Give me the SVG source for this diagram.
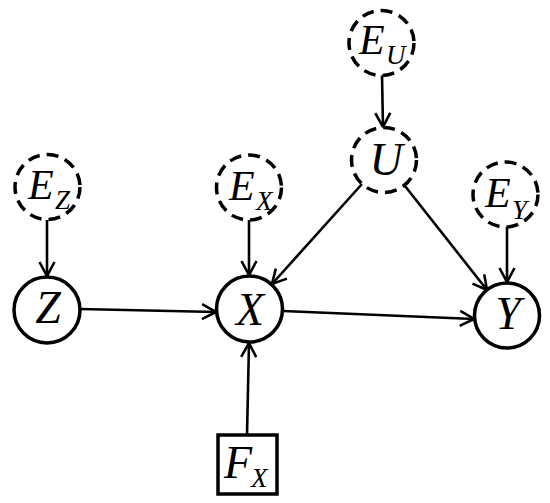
<svg xmlns="http://www.w3.org/2000/svg" width="550" height="503" viewBox="0 0 550 503">
<style>
.n{fill:#fff;stroke:#000;stroke-width:3.5}
.d{fill:#fff;stroke:#000;stroke-width:3.5;stroke-dasharray:12 7}
.e{fill:none;stroke:#000;stroke-width:2.6;marker-end:url(#a)}
text{font-family:"Liberation Serif","Times New Roman",serif;font-style:italic;fill:#000}
.m{font-size:46px}
.b{font-size:42px}
.s{font-size:27px}
</style>
<defs>
<marker id="a" viewBox="0 0 16 18" refX="15" refY="9" markerWidth="16" markerHeight="18" markerUnits="userSpaceOnUse" orient="auto">
<path d="M1,1.5 L15,9 L1,16.5" fill="none" stroke="#000" stroke-width="2.6"/>
</marker>
</defs>
<g id="connectors">
<line class="e" x1="47" y1="220" x2="47" y2="276"/>
<line class="e" x1="249" y1="220" x2="249" y2="275"/>
<line class="e" x1="382" y1="75" x2="383" y2="127"/>
<line class="e" x1="507" y1="227" x2="507" y2="282"/>
<line class="e" x1="80" y1="309" x2="216" y2="312"/>
<line class="e" x1="283" y1="311" x2="474" y2="319"/>
<line class="e" x1="362" y1="184" x2="272" y2="284"/>
<line class="e" x1="405" y1="186" x2="487" y2="290"/>
<line class="e" x1="247" y1="435" x2="249" y2="343"/>
</g>
<g id="EZ"><circle class="d" cx="47.5" cy="187" r="32.5"/><text class="b" x="28" y="199">E</text><text class="s" x="55" y="209">Z</text></g>
<g id="Z"><circle class="n" cx="47" cy="310" r="33"/><text class="m" x="48" y="323" text-anchor="middle">Z</text></g>
<g id="EX"><circle class="d" cx="249" cy="187.5" r="32.5"/><text class="b" x="229" y="200">E</text><text class="s" x="256" y="210">X</text></g>
<g id="X"><circle class="n" cx="249.5" cy="309" r="33"/><text class="m" x="250" y="325" text-anchor="middle">X</text></g>
<g id="EU"><circle class="d" cx="381.5" cy="43" r="32.5"/><text class="b" x="359" y="54">E</text><text class="s" x="386" y="64">U</text></g>
<g id="U"><circle class="d" cx="384" cy="160" r="32.5"/><text class="m" x="386" y="175" text-anchor="middle">U</text></g>
<g id="EY"><circle class="d" cx="505.5" cy="194.5" r="32.5"/><text class="b" x="485" y="207">E</text><text class="s" x="512" y="219">Y</text></g>
<g id="Y"><circle class="n" cx="507" cy="315.5" r="32.5"/><text class="m" x="508" y="329" text-anchor="middle">Y</text></g>
<g id="FX"><rect class="n" x="218" y="435" width="59" height="59"/><text class="m" x="224" y="478">F</text><text class="s" x="251" y="487">X</text></g>
</svg>
